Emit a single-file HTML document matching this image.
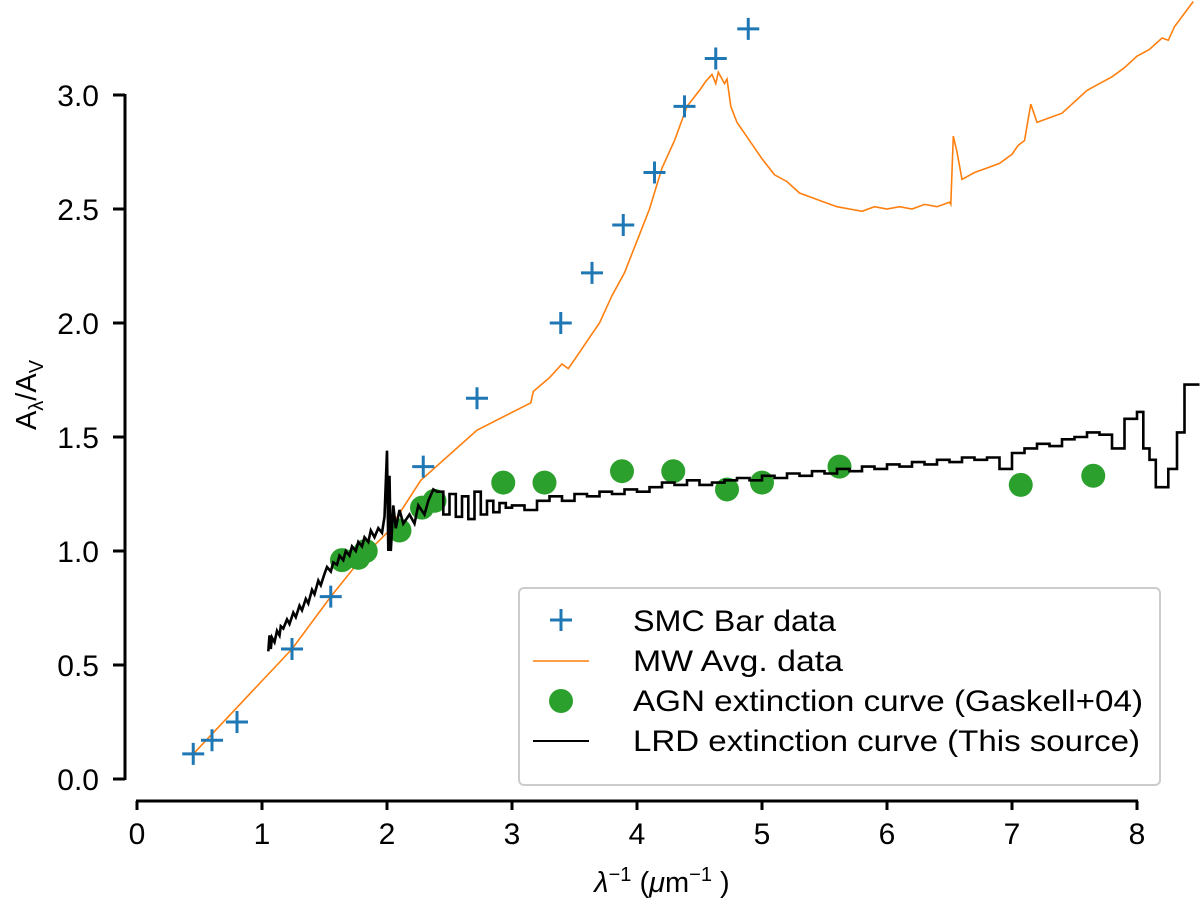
<!DOCTYPE html>
<html><head><meta charset="utf-8"><style>
body{margin:0;background:#fff;}
svg{display:block;font-family:"Liberation Sans","DejaVu Sans",sans-serif;}
</style></head><body>
<svg id="chart" width="1200" height="909" viewBox="0 0 1200 909" xmlns="http://www.w3.org/2000/svg">
<g id="axes"></g>
<g id="series"></g>
<g id="legend"></g>
</svg>
<script>
const xTicks=[0,1,2,3,4,5,6,7,8];
const yTicks=[0,0.5,1.0,1.5,2.0,2.5,3.0];
const yTickLabels=["0.0","0.5","1.0","1.5","2.0","2.5","3.0"];
const smcX=[0.45,0.6,0.8,1.24,1.55,2.29,2.72,3.39,3.64,3.89,4.14,4.38,4.63,4.89];
const smcY=[0.11,0.17,0.25,0.57,0.80,1.37,1.67,2.0,2.22,2.43,2.66,2.95,3.16,3.29];
const mwX=[0.45,1.24,1.55,1.8,2.0,2.27,2.72,3.15,3.17,3.3,3.4,3.45,3.55,3.6,3.7,3.8,3.9,4.0,4.1,4.2,4.3,4.4,4.5,4.55,4.6,4.63,4.65,4.7,4.72,4.75,4.8,4.9,5.0,5.1,5.2,5.3,5.4,5.5,5.6,5.7,5.8,5.9,6.0,6.1,6.2,6.3,6.4,6.5,6.51,6.53,6.56,6.6,6.7,6.8,6.9,7.0,7.05,7.1,7.15,7.2,7.3,7.4,7.5,7.6,7.7,7.8,7.9,8.0,8.1,8.2,8.25,8.3,8.45];
const mwY=[0.11,0.57,0.80,0.97,1.08,1.31,1.53,1.65,1.70,1.76,1.82,1.80,1.88,1.92,2.00,2.12,2.22,2.36,2.50,2.68,2.80,2.95,3.02,3.06,3.09,3.05,3.10,3.05,3.07,2.95,2.88,2.80,2.72,2.65,2.62,2.57,2.55,2.53,2.51,2.50,2.49,2.51,2.50,2.51,2.50,2.52,2.51,2.53,2.52,2.82,2.75,2.63,2.66,2.68,2.70,2.74,2.78,2.80,2.96,2.88,2.90,2.92,2.97,3.02,3.05,3.08,3.12,3.17,3.20,3.25,3.24,3.30,3.41];
const agnX=[1.64,1.77,1.83,2.10,2.28,2.38,2.93,3.26,3.88,4.29,4.72,5.0,5.62,7.07,7.65];
const agnY=[0.96,0.97,1.0,1.09,1.19,1.22,1.30,1.30,1.35,1.35,1.27,1.30,1.37,1.29,1.33];
const lrdLineX=[1.05,1.06,1.07,1.08,1.1,1.12,1.14,1.15,1.17,1.2,1.22,1.25,1.27,1.3,1.32,1.35,1.37,1.4,1.42,1.45,1.47,1.5,1.52,1.55,1.57,1.6,1.62,1.65,1.67,1.7,1.72,1.75,1.77,1.8,1.82,1.85,1.87,1.9,1.93,1.96,1.98,2.0,2.01,2.02,2.03,2.05,2.07,2.1,2.13,2.18,2.22,2.25,2.3,2.33,2.37,2.4];
const lrdLineY=[0.56,0.63,0.57,0.62,0.60,0.65,0.63,0.67,0.66,0.70,0.68,0.73,0.71,0.76,0.74,0.79,0.77,0.83,0.81,0.87,0.85,0.90,0.93,0.91,0.95,0.94,0.98,0.96,1.00,0.98,1.02,1.00,1.04,1.02,1.06,1.04,1.09,1.06,1.10,1.08,1.15,1.44,1.0,1.33,1.0,1.2,1.10,1.18,1.12,1.16,1.12,1.2,1.16,1.22,1.27,1.26];
const lrdStepX=[2.4,2.45,2.5,2.55,2.6,2.65,2.7,2.75,2.8,2.85,2.9,2.95,3.0,3.1,3.2,3.3,3.4,3.5,3.6,3.7,3.8,3.9,4.0,4.1,4.2,4.3,4.4,4.5,4.6,4.7,4.8,4.9,5.0,5.1,5.2,5.3,5.4,5.5,5.6,5.7,5.8,5.9,6.0,6.1,6.2,6.3,6.4,6.5,6.6,6.7,6.8,6.9,7.0,7.1,7.2,7.3,7.4,7.5,7.6,7.7,7.8,7.9,8.0,8.05,8.1,8.15,8.25,8.32,8.38,8.5];
const lrdStepY=[1.26,1.16,1.25,1.15,1.24,1.14,1.26,1.16,1.22,1.17,1.21,1.19,1.20,1.18,1.22,1.24,1.22,1.25,1.24,1.26,1.25,1.27,1.26,1.28,1.30,1.29,1.31,1.29,1.30,1.31,1.32,1.31,1.33,1.32,1.34,1.33,1.35,1.34,1.36,1.35,1.37,1.36,1.38,1.37,1.39,1.38,1.40,1.39,1.41,1.40,1.41,1.36,1.43,1.45,1.47,1.46,1.49,1.50,1.52,1.51,1.45,1.58,1.61,1.45,1.40,1.28,1.36,1.52,1.73];

const NS="http://www.w3.org/2000/svg";
const X=v=>137+125*v, Y=v=>779-228*v;
function mk(tag,attrs,parent,text){const e=document.createElementNS(NS,tag);for(const k in attrs)e.setAttribute(k,attrs[k]);if(text!==undefined)e.textContent=text;parent.appendChild(e);return e;}
const axes=document.getElementById('axes'),series=document.getElementById('series'),legend=document.getElementById('legend');

let e=mk('line',{x1:X(0)-1,x2:X(8)+1,y1:801,y2:801,stroke:'#000','stroke-width':3},axes);

e=mk('line',{x1:125,x2:125,y1:Y(0)+1,y2:Y(3)-1,stroke:'#000','stroke-width':3},axes);

xTicks.forEach(t=>{
  let l=mk('line',{x1:X(t),x2:X(t),y1:801,y2:810,stroke:'#000','stroke-width':3},axes);
  
  let s=mk('text',{x:X(t),y:844,'font-size':30,'text-anchor':'middle'},axes,String(t));
  
});
yTicks.forEach((t,i)=>{
  let l=mk('line',{x1:113,x2:125,y1:Y(t),y2:Y(t),stroke:'#000','stroke-width':3},axes);
  
  let s=mk('text',{x:99,y:Y(t)+11,'font-size':30,'text-anchor':'end'},axes,yTickLabels[i]);
  
});
e=mk('text',{x:662,y:892,'font-size':29,'text-anchor':'middle'},axes);

e.innerHTML='<tspan font-style="italic">λ</tspan><tspan dy="-11" font-size="20">−1</tspan><tspan dy="11"> (</tspan><tspan font-style="italic">μ</tspan><tspan>m</tspan><tspan dy="-11" font-size="20">−1</tspan><tspan dy="11"> )</tspan>';
e=mk('text',{x:0,y:0,'font-size':29,'text-anchor':'middle',transform:'translate(36,395) rotate(-90)'},axes);

e.innerHTML='A<tspan dy="7" font-size="20">λ</tspan><tspan dy="-7">/A</tspan><tspan dy="7" font-size="20">V</tspan>';

let d=mwX.map((x,i)=>(i?'L':'M')+X(x).toFixed(1)+','+Y(mwY[i]).toFixed(1)).join('');
e=mk('path',{d:d,fill:'none',stroke:'#ff7f0e','stroke-width':1.6},series);

agnX.forEach((x,i)=>{
  let c=mk('circle',{cx:X(x),cy:Y(agnY[i]),r:12,fill:'#2ca02c'},series);
  
});
d=lrdLineX.map((x,i)=>(i?'L':'M')+X(x).toFixed(1)+','+Y(lrdLineY[i]).toFixed(1)).join('');
for(let i=0;i<lrdStepY.length;i++){d+='L'+X(lrdStepX[i]).toFixed(1)+','+Y(lrdStepY[i]).toFixed(1)+'L'+X(lrdStepX[i+1]).toFixed(1)+','+Y(lrdStepY[i]).toFixed(1);}
e=mk('path',{d:d,fill:'none',stroke:'#000','stroke-width':2.6,'stroke-linejoin':'miter'},series);

smcX.forEach((x,i)=>{
  let cx=X(x),cy=Y(smcY[i]);
  let p=mk('path',{d:`M${cx-11},${cy}H${cx+11}M${cx},${cy-11}V${cy+11}`,stroke:'#1f77b4','stroke-width':3},series);
  
});
e=mk('rect',{x:519,y:588,width:641,height:197,rx:5,fill:'#fff','fill-opacity':0.8,stroke:'#ccc','stroke-width':2},legend);

const labels=["SMC Bar data","MW Avg. data","AGN extinction curve (Gaskell+04)","LRD extinction curve (This source)"];
const widths=[203,210,510,507];
labels.forEach((t,i)=>{
  const y=620+40*i;
  let m;
  if(i==0)m=mk('path',{d:`M${561-11},${y}H${572}M561,${y-11}V${y+11}`,stroke:'#1f77b4','stroke-width':3},legend);
  else if(i==1)m=mk('line',{x1:533,x2:589,y1:y+1,y2:y+1,stroke:'#ff7f0e','stroke-width':1.6},legend);
  else if(i==2)m=mk('circle',{cx:561,cy:y+1,r:12,fill:'#2ca02c'},legend);
  else m=mk('line',{x1:533,x2:589,y1:y+1,y2:y+1,stroke:'#000','stroke-width':2},legend);
  
  let s=mk('text',{x:633,y:y+11,'font-size':30,textLength:widths[i],lengthAdjust:'spacingAndGlyphs'},legend,t);
  
});
</script>
</body></html>
